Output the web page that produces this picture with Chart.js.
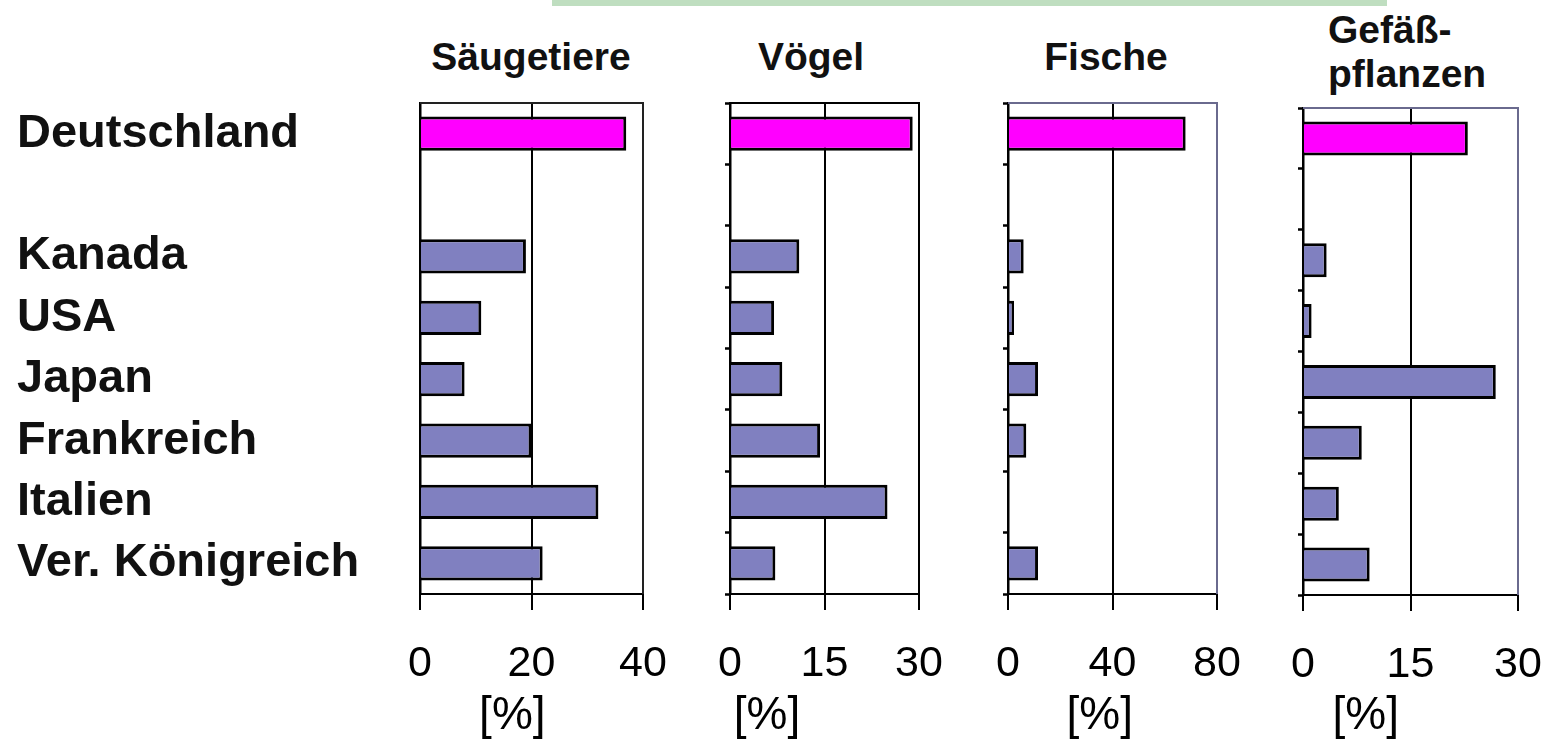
<!DOCTYPE html>
<html>
<head>
<meta charset="utf-8">
<script src="https://cdn.jsdelivr.net/npm/chart.js@4.4.1/dist/chart.umd.min.js"></script>
<style>
  body { margin: 0; background: #fff; width: 1544px; height: 741px; position: relative; overflow: hidden; }
  canvas { position: absolute; top: 0; }
  .title { position: absolute; font: bold 39px "Liberation Sans", Arial, sans-serif; color: #111; line-height: 39px; }
  .center { width: 300px; text-align: center; }
  #topbar { position: absolute; left: 552px; top: 0; width: 835px; height: 6px; background: #bfdec0; }
</style>
</head>
<body>
<div id="topbar"></div>
<div class="title center" style="left:381px; top:37px">Säugetiere</div>
<div class="title center" style="left:661px; top:37px">Vögel</div>
<div class="title center" style="left:956px; top:37px">Fische</div>
<div class="title" style="left:1328px; top:8px; line-height:44px">Gefäß-<br>pflanzen</div>

<canvas id="saeugetiereChart" width="705" height="741" style="left:0px"></canvas>
<canvas id="voegelChart" width="291" height="741" style="left:690px"></canvas>
<canvas id="fischeChart" width="311" height="741" style="left:968px"></canvas>
<canvas id="pflanzenChart" width="314" height="741" style="left:1263px"></canvas>

<script>
// Anteil gefährdeter Arten in %
const categories = ['Deutschland', '', 'Kanada', 'USA', 'Japan', 'Frankreich', 'Italien', 'Ver. Königreich'];
const saeugetiere = [37, null, 19, 11, 8, 20, 32, 22];
const voegel = [29, null, 11, 7, 8.3, 14.3, 25, 7.2];
const fische = [68, null, 6, 2.3, 11.5, 7, 0, 11.5];
const gefaesspflanzen = [23, null, 3.3, 1.2, 26.9, 8.2, 5, 9.3];

const saeugetiereTicks = [0, 20, 40];
const voegelTicks = [0, 15, 30];
const fischeTicks = [0, 40, 80];
const pflanzenTicks = [0, 15, 30];

const barColors = categories.map(c => c === 'Deutschland' ? '#ff00ff' : '#8080c0');

// rahmen oben und rechts
const framePlugin = {
    id: 'frame',
    afterDatasetsDraw(chart, args, opts) {
        const {ctx, chartArea} = chart;
        ctx.save();
        ctx.strokeStyle = opts.color;
        ctx.lineWidth = 2;
        ctx.beginPath();
        ctx.moveTo(chartArea.left, chartArea.top);
        ctx.lineTo(chartArea.right, chartArea.top);
        ctx.lineTo(chartArea.right, chartArea.bottom);
        ctx.stroke();
        ctx.restore();
    }
};

function createPanel(id, values, ticks, cfg) {
    const ctx = document.getElementById(id).getContext('2d');
    return new Chart(ctx, {
        type: 'bar',
        data: {
            labels: categories,
            datasets: [{
                data: values,
                backgroundColor: barColors,
                borderColor: '#000',
                borderWidth: 3,
                barPercentage: 0.56,
                categoryPercentage: 1
            }]
        },
        options: {
            indexAxis: 'y',
            responsive: false,
            animation: false,
            layout: {
                padding: { left: cfg.padLeft, right: cfg.padRight, top: cfg.top, bottom: 0 }
            },
            scales: {
                x: {
                    min: ticks[0],
                    max: ticks[ticks.length - 1],
                    afterBuildTicks: scale => {
                        scale.ticks = ticks.map(v => ({ value: v }));
                    },
                    afterFit: scale => { scale.height = 741 - cfg.bottom; },
                    grid: {
                        color: c => c.index === ticks.length - 1 ? cfg.frame : '#000',
                        lineWidth: 2,
                        tickColor: '#000',
                        tickLength: 16
                    },
                    border: { color: '#000', width: 2 },
                    ticks: {
                        color: '#000',
                        padding: 28,
                        font: { family: '"Liberation Sans", Arial', size: 43 }
                    },
                    title: {
                        display: true,
                        text: cfg.unit,
                        color: '#000',
                        padding: { top: 0, bottom: 2 },
                        font: { family: '"Liberation Sans", Arial', size: 46, lineHeight: 1 }
                    }
                },
                y: {
                    afterFit: scale => { scale.width = cfg.axisWidth; },
                    grid: {
                        drawOnChartArea: false,
                        drawTicks: cfg.showLabels ? false : true,
                        tickLength: 5,
                        tickColor: '#000',
                        tickWidth: 2.5
                    },
                    border: { color: '#000', width: 2.5 },
                    ticks: {
                        display: cfg.showLabels,
                        crossAlign: 'far',
                        color: '#111',
                        font: { family: '"Liberation Sans", Arial', size: 47, weight: 'bold' }
                    }
                }
            },
            plugins: {
                legend: { display: false },
                tooltip: { enabled: false },
                frame: { color: cfg.frame }
            }
        },
        plugins: [framePlugin]
    });
}

createPanel('saeugetiereChart', saeugetiere, saeugetiereTicks, {
    padLeft: 17, padRight: 62, top: 103, bottom: 594, axisWidth: 403,
    showLabels: true, frame: '#222', unit: '[%]   '
});
createPanel('voegelChart', voegel, voegelTicks, {
    padLeft: 0, padRight: 62, top: 103, bottom: 594, axisWidth: 40,
    showLabels: false, frame: '#000', unit: '[%]         '
});
createPanel('fischeChart', fische, fischeTicks, {
    padLeft: 0, padRight: 62, top: 103, bottom: 594, axisWidth: 40,
    showLabels: false, frame: '#6a6a8e', unit: '[%]  '
});
createPanel('pflanzenChart', gefaesspflanzen, pflanzenTicks, {
    padLeft: 0, padRight: 59, top: 108, bottom: 595, axisWidth: 40,
    showLabels: false, frame: '#6a6a8e', unit: '[%]       '
});
</script>
</body>
</html>
